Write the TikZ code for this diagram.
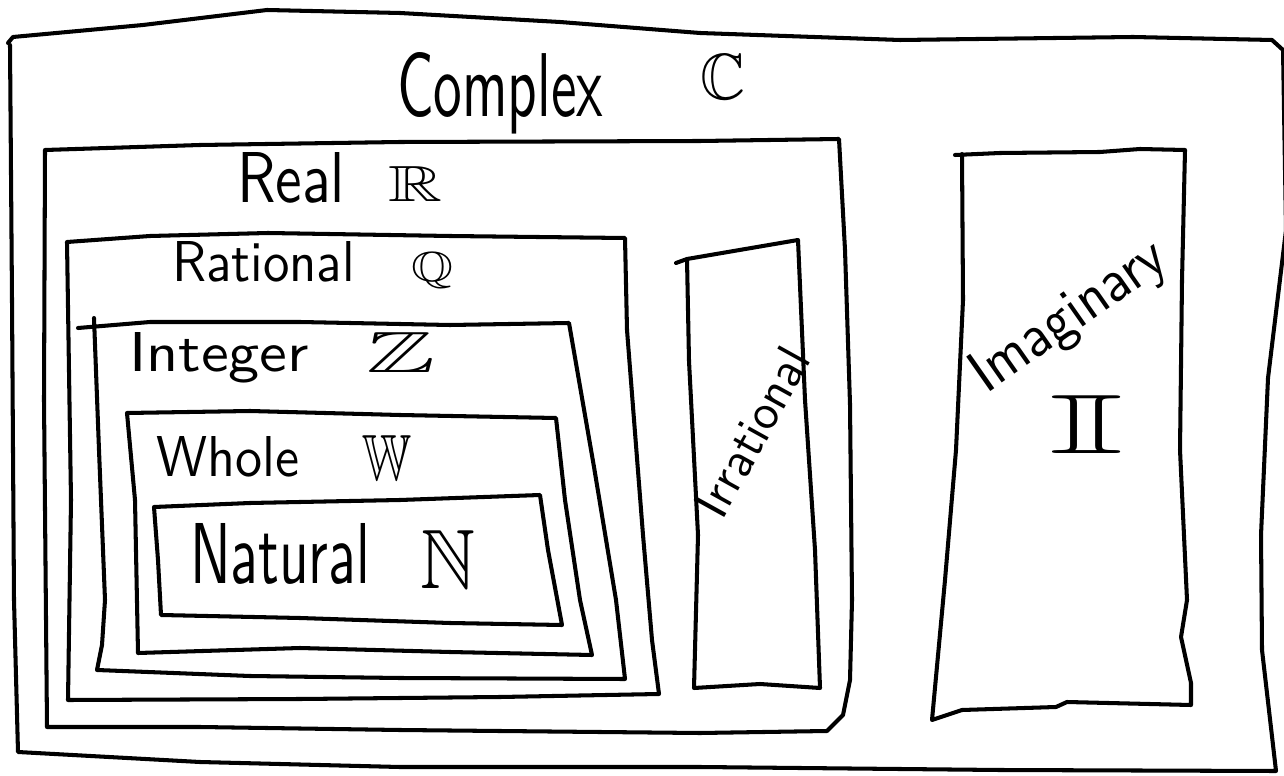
\documentclass[tikz,border=0pt]{standalone}
\usepackage{amssymb}
\usepackage{graphicx}
% one unit = one pixel of the sketch
\newlength\px
\setlength\px{0.02cm}
% hand-lettered label squeezed to a given width and height (in px)
\newcommand\hw[3]{\resizebox{#1\px}{#2\px}{\sffamily #3}}
\tikzset{
  hand/.style={line width=2.3pt, line join=round, line cap=round},
  lbl/.style={inner sep=0pt, outer sep=0pt, anchor=base west},
  tilted/.style={inner sep=0pt, outer sep=0pt}
}
\begin{document}
\begin{tikzpicture}[x=0.02cm, y=-0.02cm]
\useasboundingbox (0,0) rectangle (1284,776);

% Complex
\draw[hand] (8,43) -- (13,37) -- (143,25) -- (267,10) -- (400,13) -- (560,22) -- (700,33)
  -- (900,40) -- (1133,37) -- (1272,40) -- (1283,50) -- (1286,230) -- (1268,378)
  -- (1261,535) -- (1262,650) -- (1276,771) -- (1000,770) -- (700,767) -- (400,767)
  -- (200,762) -- (18,752) -- (14,600) -- (12,300) -- (10,45);

% Real
\draw[hand] (45,150) -- (200,145) -- (400,142) -- (700,141) -- (839,139)
  -- (845,250) -- (850,404) -- (852,600) -- (850,680) -- (843,715) -- (827,731)
  -- (700,733) -- (400,730) -- (200,727) -- (47,727) -- (44,400) -- (45,150);

% Rational
\draw[hand] (67,242) -- (150,236) -- (268,233) -- (450,236) -- (625,238)
  -- (627,330) -- (643,535) -- (652,640) -- (659,694)
  -- (500,697) -- (300,699) -- (68,700) -- (71,500) -- (67,242);

% Integer
\draw[hand] (78,328) -- (150,322) -- (300,322) -- (450,325) -- (569,323)
  -- (594,467) -- (616,600) -- (625,679)
  -- (400,678) -- (250,676) -- (97,670) -- (102,645) -- (105,600) -- (99,450) -- (94,318);

% Whole
\draw[hand] (127,413) -- (250,411) -- (400,415) -- (556,418)
  -- (565,500) -- (580,600) -- (592,655)
  -- (450,652) -- (300,648) -- (138,653) -- (135,500) -- (127,413);

% Natural
\draw[hand] (154,507) -- (250,503) -- (400,500) -- (540,495)
  -- (548,550) -- (562,625)
  -- (450,623) -- (300,618) -- (161,615) -- (158,560) -- (154,507);

% Irrational
\draw[hand] (676,263) -- (687,259) -- (798,240)
  -- (805,400) -- (815,550) -- (820,688)
  -- (760,684) -- (694,688) -- (698,535) -- (689,361) -- (687,259);

% Imaginary
\draw[hand] (955,155) -- (1000,153) -- (1100,152) -- (1140,149) -- (1185,150)
  -- (1182,280) -- (1180,450) -- (1187,600) -- (1181,637) -- (1191,683) -- (1191,705)
  -- (1067,702) -- (1056,707) -- (962,710) -- (932,720)
  -- (945,580) -- (956,450) -- (963,300) -- (962,154);

% labels
\node[lbl] (tComplex)  at (397,117) {\hw{206}{64}{Complex}};
\node[lbl] (sComplex)  at (700,100) {\hw{45}{45}{$\mathbb{C}$}};
\node[lbl] (tReal)     at (237,203) {\hw{108}{50}{Real}};
\node[lbl] (sReal)     at (388,202) {\hw{54}{35}{$\mathbb{R}$}};
\node[lbl] (tRational) at (172,282) {\hw{183}{40}{Rational}};
\node[lbl] (sRational) at (411,282) {\hw{42}{29}{$\mathbb{Q}$}};
\node[lbl] (tInteger)  at (129,372) {\hw{180}{39}{Integer}};
\node[lbl] (sInteger)  at (366,373) {\hw{69}{40}{$\mathbb{Z}$}};
\node[lbl] (tWhole)    at (156,477) {\hw{143}{40}{Whole}};
\node[lbl] (sWhole)    at (362,480) {\hw{49}{45}{$\mathbb{W}$}};
\node[lbl] (tNatural)  at (190,583) {\hw{180}{60}{Natural}};
\node[lbl] (sNatural)  at (420,588) {\hw{55}{58}{$\mathbb{N}$}};
\node[tilted, rotate=61] (tIrrational) at (752,432) {\hw{185}{35}{Irrational}};
\node[tilted, rotate=35] (tImaginary)  at (1070,318) {\hw{225}{42}{Imaginary}};
\node[lbl] (sImaginary) at (1048,454) {\hw{76}{58}{$\mathbb{I}$}};
\end{tikzpicture}
\end{document}
